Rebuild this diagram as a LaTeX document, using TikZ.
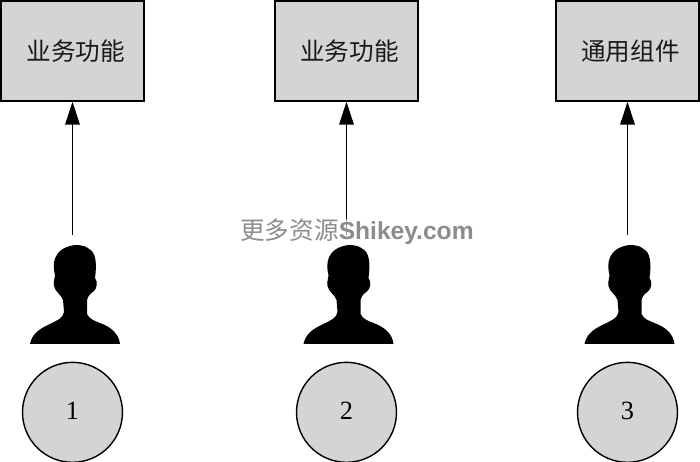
\documentclass[tikz,border=0pt]{standalone}
\usepackage{xcolor}
\usepackage{fontspec}
\setmainfont{Liberation Serif}
\newfontfamily\cjk{Noto Sans CJK SC}
\newfontfamily\marksans{Liberation Sans}
\usetikzlibrary{positioning,arrows.meta}
\definecolor{boxgray}{gray}{0.83}
\newcommand{\badgenum}[1]{\raisebox{-3.9pt}[0pt][0pt]{#1}}
\tikzstyle{module}=[rectangle, draw=black, fill=boxgray, line width=0.8pt, minimum width=2.86cm,
        minimum height=2cm, font=\cjk\fontsize{14pt}{16pt}\selectfont, text=black!90, inner sep=0pt]
\tikzstyle{badge}=[circle, draw=black, fill=boxgray, line width=0.8pt, minimum size=2cm,
        font=\fontsize{15pt}{16pt}\selectfont, inner sep=0pt]
\tikzstyle{call}=[draw=black, line width=0.9pt, -{Triangle[length=0.46cm,width=0.29cm]}]
\tikzstyle{watermark}=[font=\fontsize{14pt}{16pt}\selectfont, text=black!45, inner sep=0pt]
\tikzset{
  person/.pic={
    \fill[black] (-45,0) .. controls (-43,10) and (-36,15) .. (-25,20)
      .. controls (-17,24) and (-12,26) .. (-11,32)
      -- (-12,44) .. controls (-14,50) and (-20,52) .. (-21,58)
      .. controls (-22,62) and (-20,66) .. (-20,69)
      .. controls (-23,80) and (-22,96) .. (0,99)
      .. controls (8,99) and (12,97) .. (14,95)
      .. controls (21,92) and (22,80) .. (20,66)
      .. controls (23,62) and (22,56) .. (19,53)
      .. controls (15,50) and (13,48) .. (12,44)
      -- (12,30) .. controls (14,25) and (20,23) .. (25,21)
      .. controls (36,17) and (44,10) .. (45,0) -- cycle;
  }
}
\begin{document}
\begin{tikzpicture}[x=0.02cm, y=0.02cm, node distance=5.2cm]
        \useasboundingbox (0,0) rectangle (700,462);
        \node (box1) [module] at (72.5,411) {\hspace{0.14cm}业务功能};
        \node (box2) [module] at (346.5,411) {\hspace{0.12cm}业务功能};
        \node (box3) [module] at (627.5,411) {\hspace{0.12cm}通用组件};
        \node (num1) [badge, below=of box1] {\badgenum{1}};
        \node (num2) [badge, below=of box2] {\badgenum{2}};
        \node (num3) [badge, below=of box3] {\badgenum{3}};
        \coordinate[above=2.54cm of num1] (user1);
        \coordinate[above=2.54cm of num2] (user2);
        \coordinate[above=2.54cm of num3] (user3);
        \draw[call] (user1) -- (box1);
        \draw[call] (user2) -- (box2);
        \draw[call] (user3) -- (box3);
        \pic at (75,118) {person};
        \pic at (348.5,118) {person};
        \pic at (629.5,118) {person};
        % site mark over the middle line
        \node (mark) [watermark, fill=white, fill opacity=0.6, text opacity=1] at (357,230) {\cjk 更多资源\marksans\bfseries Shikey.com};
      \end{tikzpicture}
\end{document}
